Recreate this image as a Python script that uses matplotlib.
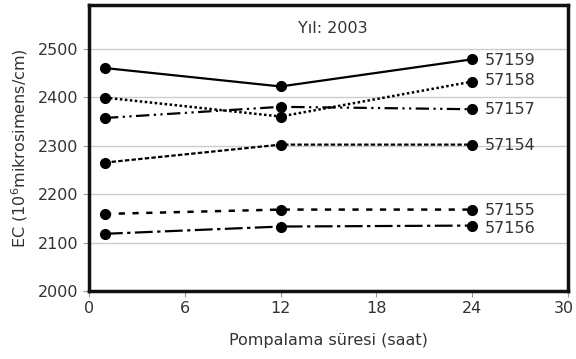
import matplotlib
matplotlib.use("Agg")
import matplotlib.pyplot as plt
import matplotlib.transforms as mtransforms

hours = [1, 12, 24]
s57159 = [2460, 2422, 2478]
s57158 = [2399, 2360, 2432]
s57157 = [2357, 2380, 2375]
s57154 = [2265, 2302, 2302]
s57155 = [2159, 2168, 2168]
s57156 = [2118, 2133, 2135]
series_names = ["57159", "57158", "57157", "57154", "57155", "57156"]
label_y = [2476, 2434, 2375, 2301, 2166, 2129]
xticks = [0, 6, 12, 18, 24, 30]
yticks = [2000, 2100, 2200, 2300, 2400, 2500]

plt.rcParams['font.family'] = ['DejaVu Sans']
fig = plt.figure(figsize=(5.76, 3.59), dpi=100)
ax = fig.add_axes([0.1545, 0.1894, 0.8315, 0.7966])

styles = [
    dict(ls='-', lw=1.6),
    dict(ls=(0, (1, 1)), lw=1.8),
    dict(ls=(0, (6, 2, 1, 2, 1, 2)), lw=1.6),
    dict(ls=(0, (2, 1)), lw=1.6),
    dict(ls=(0, (2.5, 3)), lw=1.8),
    dict(ls=(0, (8, 2, 1.5, 2)), lw=1.6),
]
data = [s57159, s57158, s57157, s57154, s57155, s57156]
for vals, st, name, ly in zip(data, styles, series_names, label_y):
    ax.plot(hours, vals, color='black', marker='o', markersize=7, **st)
    ax.text(24.8, ly, name, fontsize=11.5, color='#333333', va='center', ha='left')

ax.text(15.3, 2541, "Yıl: 2003", fontsize=11.5, color='#333333', ha='center', va='center')

ax.set_xlim(0, 30)
ax.set_ylim(2000, 2590)
ax.set_xticks(xticks)
ax.set_yticks(yticks)
ax.grid(axis='y', color='#cccccc', lw=1)
ax.set_axisbelow(True)
for sp in ax.spines.values():
    sp.set_linewidth(2.5)
    sp.set_color('#111111')
ax.tick_params(axis='both', color='#999999', length=4, labelsize=11.5, labelcolor='#333333')
ax.set_xlabel("Pompalama süresi (saat)", fontsize=11.5, color='#333333', labelpad=12)
ax.set_ylabel("EC (10$^6$mikrosimens/cm)", fontsize=11.5, color='#333333', labelpad=6)

last = ax.get_xticklabels()[-1]
last.set_horizontalalignment('right')
last.set_transform(last.get_transform() + mtransforms.ScaledTranslation(6 / 100, 0, fig.dpi_scale_trans))

fig.savefig("out.png", dpi=100)
